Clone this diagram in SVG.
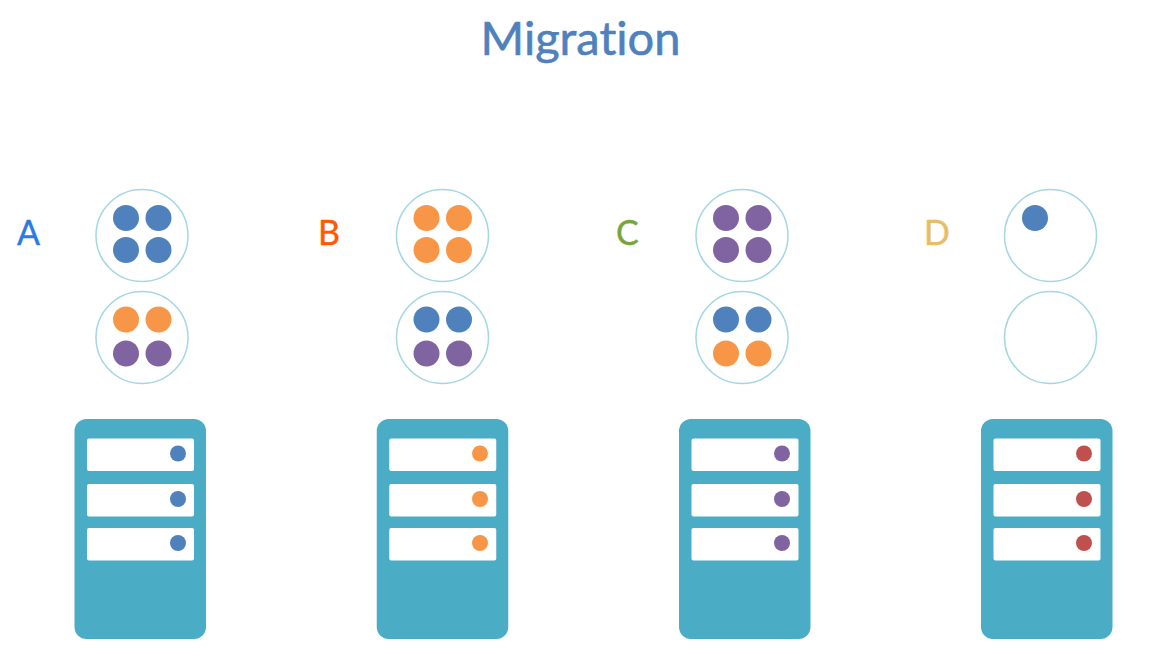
<svg xmlns="http://www.w3.org/2000/svg" xmlns:xlink="http://www.w3.org/1999/xlink" width="1151" height="662" viewBox="0 0 1151 662">
<style>
text{font-family:Lato,"Open Sans",sans-serif;font-variant-ligatures:none}
.t{font-size:47px;fill:#4f81bd;stroke:#4f81bd;stroke-width:.6}
.l{font-size:34px;stroke-width:.4}
.r{fill:#fff;stroke:#a3d7e5;stroke-width:1.5}
.b{fill:#4f81bd}.o{fill:#f79646}.p{fill:#8064a2}.d{fill:#c0504d}
.s{fill:#4bacc6}.w{fill:#fff}
</style>
<defs>
<g id="srv">
<rect class="s" x="0" y="0" width="131.500" height="220" rx="12"/>
<rect class="w" x="12.500" y="19.500" width="107" height="32.500" rx="2"/>
<rect class="w" x="12.500" y="65" width="107" height="32.500" rx="2"/>
<rect class="w" x="12.500" y="109" width="107" height="32.500" rx="2"/>
</g>
</defs>
<rect width="1151" height="662" fill="#fff"/>
<text id="title" class="t" x="580.500" y="55" text-anchor="middle">Migration</text>
<g id="connectors"/>
<g id="node-a">
<text class="l" x="17" y="245" fill="#2a7ae2" stroke="#2a7ae2">A</text>
<circle class="r" cx="142" cy="235.500" r="46"/>
<circle class="b" cx="126" cy="218" r="13"/><circle class="b" cx="158.500" cy="218" r="13"/>
<circle class="b" cx="126" cy="250" r="13"/><circle class="b" cx="158.500" cy="250" r="13"/>
<circle class="r" cx="142" cy="337.500" r="46"/>
<circle class="o" cx="126" cy="319.500" r="13"/><circle class="o" cx="158.500" cy="319.500" r="13"/>
<circle class="p" cx="126" cy="353.500" r="13"/><circle class="p" cx="158.500" cy="353.500" r="13"/>
<use xlink:href="#srv" href="#srv" x="74.500" y="419"/>
<circle class="b" cx="178" cy="453.500" r="8"/><circle class="b" cx="178" cy="499" r="8"/><circle class="b" cx="178" cy="543" r="8"/>
</g>
<g id="node-b">
<text class="l" x="318" y="245" fill="#ff5a00" stroke="#ff5a00">B</text>
<circle class="r" cx="442.500" cy="235.500" r="46"/>
<circle class="o" cx="426.500" cy="218" r="13"/><circle class="o" cx="459" cy="218" r="13"/>
<circle class="o" cx="426.500" cy="250" r="13"/><circle class="o" cx="459" cy="250" r="13"/>
<circle class="r" cx="442.500" cy="337.500" r="46"/>
<circle class="b" cx="426.500" cy="319.500" r="13"/><circle class="b" cx="459" cy="319.500" r="13"/>
<circle class="p" cx="426.500" cy="353.500" r="13"/><circle class="p" cx="459" cy="353.500" r="13"/>
<use xlink:href="#srv" href="#srv" x="376.750" y="419"/>
<circle class="o" cx="480" cy="453.500" r="8"/><circle class="o" cx="480" cy="499" r="8"/><circle class="o" cx="480" cy="543" r="8"/>
</g>
<g id="node-c">
<text class="l" x="616" y="245" fill="#76a53c" stroke="#76a53c">C</text>
<circle class="r" cx="742" cy="235.500" r="46"/>
<circle class="p" cx="726" cy="218" r="13"/><circle class="p" cx="758.500" cy="218" r="13"/>
<circle class="p" cx="726" cy="250" r="13"/><circle class="p" cx="758.500" cy="250" r="13"/>
<circle class="r" cx="742" cy="337.500" r="46"/>
<circle class="b" cx="726" cy="319.500" r="13"/><circle class="b" cx="758.500" cy="319.500" r="13"/>
<circle class="o" cx="726" cy="353.500" r="13"/><circle class="o" cx="758.500" cy="353.500" r="13"/>
<use xlink:href="#srv" href="#srv" x="679" y="419"/>
<circle class="p" cx="782" cy="453.500" r="8"/><circle class="p" cx="782" cy="499" r="8"/><circle class="p" cx="782" cy="543" r="8"/>
</g>
<g id="node-d">
<text class="l" x="924" y="245" fill="#e6bd62" stroke="#e6bd62">D</text>
<circle class="r" cx="1050.500" cy="235.500" r="46"/>
<circle class="b" cx="1035" cy="218" r="13"/>
<circle class="r" cx="1050.500" cy="337.500" r="46"/>
<use xlink:href="#srv" href="#srv" x="981" y="419"/>
<circle class="d" cx="1084" cy="453.500" r="8"/><circle class="d" cx="1084" cy="499" r="8"/><circle class="d" cx="1084" cy="543" r="8"/>
</g>
</svg>
